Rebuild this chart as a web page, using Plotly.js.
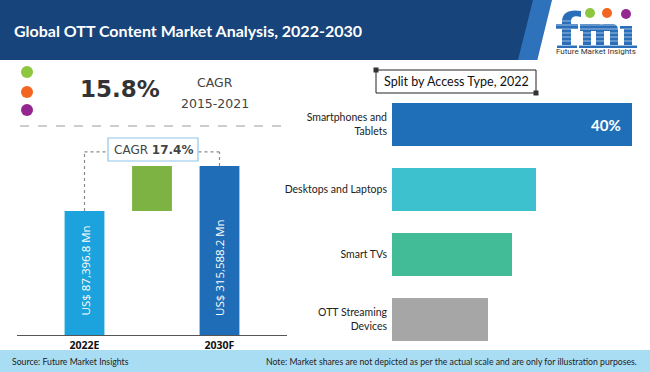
<!DOCTYPE html>
<html>
<head>
<meta charset="utf-8">
<script src="https://cdn.plot.ly/plotly-3.0.1.min.js"></script>
<style>html,body{margin:0;padding:0;background:#fff;}#chart{width:650px;height:372px;}</style>
</head>
<body>
<div id="chart"></div>
<script>
// ---- data ----
const chartTitle = "Global OTT Content Market Analysis, 2022-2030";
const marketYears = ["2022E", "2030F"];
const marketValues = [87396.8, 315588.2];          // US$ Mn
const forecastCagr = "17.4%";
const historicCagr = "15.8%";
const historicPeriod = "2015-2021";
const accessTitle = "Split by Access Type, 2022";
const accessTypes = ["Smartphones and<br>Tablets", "Desktops and Laptops", "Smart TVs", "OTT Streaming<br>Devices"];
const accessShares = [40, 24, 20, 16];              // % share (illustrative)
const sourceText = "Source: Future Market Insights";
const noteText = "Note: Market shares are not depicted as per the actual scale and are only for illustration purposes.";

// ---- helpers ----
const W = 650, H = 372;
const px = x => x / W;
const py = y => 1 - y / H;
const pt = p => px(p[0]).toFixed(5) + ',' + py(p[1]).toFixed(5);
const pathP = pts => 'M ' + pts.map(pt).join(' L ') + ' Z';

const yLogRange = [3.405, 5.945];
const connectorLevel = Math.pow(10, 5.673);

const fmt = v => v.toLocaleString('en-US', {minimumFractionDigits: 1, maximumFractionDigits: 1});

const traces = [
  {
    type: 'bar', x: [0, 2], y: marketValues, xaxis: 'x', yaxis: 'y',
    width: 0.59, marker: {color: ['#1CA2DC', '#1F6DB6']}, hoverinfo: 'skip'
  },
  {
    type: 'bar', x: [1], base: [marketValues[0]], y: [marketValues[1] - marketValues[0]],
    xaxis: 'x', yaxis: 'y', width: 0.59, marker: {color: '#7CB342'}, hoverinfo: 'skip'
  },
  {
    type: 'bar', orientation: 'h', x: accessShares, y: accessTypes, xaxis: 'x2', yaxis: 'y2',
    width: 0.66, marker: {color: ['#1F6FB8', '#3EC1CE', '#41BC96', '#A6A6A6']}, hoverinfo: 'skip'
  }
];

const logoBlue = '#2A6DB8';
const rectP = (x0, y0, x1, y1) => ({type: 'rect', xref: 'paper', yref: 'paper', x0: px(x0), x1: px(x1), y0: py(y1), y1: py(y0), fillcolor: logoBlue, line: {width: 0}});
const curveP = d => ({type: 'path', xref: 'paper', yref: 'paper', path: d, fillcolor: logoBlue, line: {width: 0}});

const shapes = [
  // header
  {type: 'rect', xref: 'paper', yref: 'paper', x0: 0, x1: 1, y0: py(60), y1: 1, fillcolor: '#17447A', line: {width: 0}, layer: 'below'},
  {type: 'path', xref: 'paper', yref: 'paper', path: pathP([[533, 0], [552, 0], [537, 60], [518, 60]]), fillcolor: '#2F72BC', line: {width: 0}, layer: 'below'},
  {type: 'path', xref: 'paper', yref: 'paper', path: pathP([[552, 0], [651, 0], [651, 61], [537, 61]]), fillcolor: '#FFFFFF', line: {width: 0}, layer: 'below'},
  // footer
  {type: 'rect', xref: 'paper', yref: 'paper', x0: 0, x1: 1, y0: 0, y1: py(350), fillcolor: '#A9DDF3', line: {width: 0}, layer: 'below'},
  // bullets
  {type: 'circle', xref: 'paper', yref: 'paper', x0: px(21), x1: px(33), y0: py(78), y1: py(66), fillcolor: '#8DC63F', line: {width: 0}},
  {type: 'circle', xref: 'paper', yref: 'paper', x0: px(21), x1: px(33), y0: py(98), y1: py(86), fillcolor: '#F26522', line: {width: 0}},
  {type: 'circle', xref: 'paper', yref: 'paper', x0: px(21), x1: px(33), y0: py(116), y1: py(104), fillcolor: '#93278F', line: {width: 0}},
  // dashed separator
  {type: 'line', xref: 'paper', yref: 'paper', x0: px(20), x1: px(288), y0: py(126), y1: py(126), line: {color: '#9A9A9A', width: 1, dash: 'dash'}},
  // connectors
  {type: 'line', xref: 'x', yref: 'y', x0: 0, x1: 0, y0: marketValues[0], y1: connectorLevel, line: {color: '#8A8A8A', width: 1.2, dash: 'dot'}},
  {type: 'line', xref: 'x', yref: 'y', x0: 2, x1: 2, y0: marketValues[1], y1: connectorLevel, line: {color: '#8A8A8A', width: 1.2, dash: 'dot'}},
  {type: 'line', xref: 'x', yref: 'y', x0: 0, x1: 2, y0: connectorLevel, y1: connectorLevel, line: {color: '#8A8A8A', width: 1.2, dash: 'dot'}},
  {type: 'rect', xref: 'paper', yref: 'paper', x0: px(108), x1: px(198), y0: py(161), y1: py(138), fillcolor: '#FFFFFF', line: {color: '#8EC5EA', width: 1.2}},
  // right title box
  {type: 'rect', xref: 'paper', yref: 'paper', x0: px(376), x1: px(536), y0: py(93), y1: py(70), fillcolor: '#FFFFFF', line: {color: '#222', width: 1}},
  {type: 'rect', xref: 'paper', yref: 'paper', x0: px(373.5), x1: px(378.5), y0: py(72.5), y1: py(67.5), fillcolor: '#333', line: {width: 0}},
  {type: 'rect', xref: 'paper', yref: 'paper', x0: px(533.5), x1: px(538.5), y0: py(95.5), y1: py(90.5), fillcolor: '#333', line: {width: 0}},
  // logo dots
  {type: 'circle', xref: 'paper', yref: 'paper', x0: px(585), x1: px(595), y0: py(18), y1: py(8), fillcolor: '#8DC63F', line: {width: 0}},
  {type: 'circle', xref: 'paper', yref: 'paper', x0: px(602), x1: px(612), y0: py(18), y1: py(8), fillcolor: '#F26522', line: {width: 0}},
  {type: 'circle', xref: 'paper', yref: 'paper', x0: px(621), x1: px(631), y0: py(19), y1: py(9), fillcolor: '#93278F', line: {width: 0}},
  // logo letters "fmi"
  curveP('M ' + pt([562, 48]) + ' L ' + pt([562, 22]) + ' C ' + pt([562, 12]) + ' ' + pt([570, 9]) + ' ' + pt([581, 11]) +
         ' L ' + pt([581, 17]) + ' C ' + pt([574, 15]) + ' ' + pt([571, 17]) + ' ' + pt([571, 22]) + ' L ' + pt([571, 48]) + ' Z'),
  rectP(556, 24, 578, 29), rectP(557, 45, 577, 48),
  curveP('M ' + pt([580, 31]) + ' L ' + pt([580, 24]) + ' L ' + pt([599, 24]) + ' Q ' + pt([604, 24]) + ' ' + pt([604, 31]) + ' Z'),
  curveP('M ' + pt([596, 31]) + ' L ' + pt([596, 28]) + ' Q ' + pt([599, 24]) + ' ' + pt([605, 24]) + ' L ' + pt([613, 24]) + ' Q ' + pt([618, 24]) + ' ' + pt([618, 31]) + ' Z'),
  rectP(583, 27, 591, 48), rectP(596, 30, 604, 48), rectP(610, 30, 618, 48),
  rectP(579, 45, 594, 48), rectP(593, 45, 607, 48), rectP(607, 45, 622, 48),
  rectP(624, 26, 632, 48), rectP(620, 26, 632, 29), rectP(620, 45, 637, 48)
];
// stripes across the logo letters
[21, 25, 29, 33, 37, 41, 45.5].forEach(y => {
  shapes.push({type: 'line', xref: 'paper', yref: 'paper', x0: px(555), x1: px(639), y0: py(y), y1: py(y), line: {color: 'rgba(255,255,255,0.55)', width: 1}});
});

const calibri = 'Lato, "Open Sans", sans-serif';
const gothic = '"DejaVu Sans", sans-serif';

const annotations = [
  {xref: 'paper', yref: 'paper', x: px(12), y: py(30), xanchor: 'left', yanchor: 'middle', showarrow: false,
   text: '<b>' + chartTitle + '</b>', font: {family: calibri, size: 16, color: '#FFFFFF'}},
  {xref: 'paper', yref: 'paper', x: px(596), y: py(52), xanchor: 'center', yanchor: 'middle', showarrow: false,
   text: 'Future Market Insights', font: {family: 'Roboto, sans-serif', size: 8, color: '#333'}},
  // historic CAGR
  {xref: 'paper', yref: 'paper', x: px(120), y: py(89), xanchor: 'center', yanchor: 'middle', showarrow: false,
   text: '<b>' + historicCagr + '</b>', font: {family: gothic, size: 23, color: '#333333'}},
  {xref: 'paper', yref: 'paper', x: px(215), y: py(82), xanchor: 'center', yanchor: 'middle', showarrow: false,
   text: 'CAGR', font: {family: gothic, size: 12.5, color: '#444'}},
  {xref: 'paper', yref: 'paper', x: px(215), y: py(104), xanchor: 'center', yanchor: 'middle', showarrow: false,
   text: historicPeriod, font: {family: gothic, size: 12.5, color: '#444'}},
  // forecast CAGR
  {xref: 'paper', yref: 'paper', x: px(153), y: py(149.5), xanchor: 'center', yanchor: 'middle', showarrow: false,
   text: 'CAGR <b>' + forecastCagr + '</b>', font: {family: gothic, size: 12, color: '#444'}},
  // right title
  {xref: 'paper', yref: 'paper', x: px(456), y: py(81.5), xanchor: 'center', yanchor: 'middle', showarrow: false,
   text: accessTitle, font: {family: calibri, size: 12.5, color: '#111'}},
  {xref: 'x2', yref: 'y2', x: accessShares[0], y: accessTypes[0], xanchor: 'right', yanchor: 'middle', xshift: -9, showarrow: false,
   text: '<b>' + accessShares[0] + '%</b>', font: {family: calibri, size: 15, color: '#FFFFFF'}},
  // footer
  {xref: 'paper', yref: 'paper', x: px(10), y: py(361), xanchor: 'left', yanchor: 'middle', showarrow: false,
   text: sourceText, font: {family: calibri, size: 8.7, color: '#222'}},
  {xref: 'paper', yref: 'paper', x: px(639), y: py(361), xanchor: 'right', yanchor: 'middle', showarrow: false,
   text: noteText, font: {family: calibri, size: 8.7, color: '#222'}}
];
marketValues.forEach((v, i) => {
  annotations.push({xref: 'x', yref: 'y', x: i * 2, y: yLogRange[0], xanchor: 'center', yanchor: 'bottom', yshift: 17,
    textangle: -90, showarrow: false, text: 'US$ ' + fmt(v) + ' Mn',
    font: {family: '"Open Sans", sans-serif', size: 11.5, color: '#FFFFFF'}});
});

const layout = {
  width: W, height: H, margin: {l: 0, r: 0, t: 0, b: 0},
  paper_bgcolor: '#FFFFFF', plot_bgcolor: 'rgba(0,0,0,0)', showlegend: false,
  xaxis: {domain: [px(17), px(287)], range: [-1, 3], tickvals: [0, 2], ticktext: marketYears,
    showline: true, linecolor: '#555', linewidth: 1, showgrid: false, zeroline: false, ticks: '',
    tickfont: {family: '"Open Sans", sans-serif', size: 10.5, color: '#111', weight: 'bold'}, fixedrange: true},
  yaxis: {domain: [py(335), py(130)], type: 'log', range: yLogRange, visible: false, fixedrange: true},
  xaxis2: {domain: [px(392), 1], range: [0, 43], visible: false, anchor: 'y2', fixedrange: true},
  yaxis2: {domain: [py(352), py(92)], anchor: 'x2', type: 'category', categoryorder: 'array', categoryarray: accessTypes,
    autorange: 'reversed', showgrid: false, showline: false, zeroline: false, ticks: '', ticklabelstandoff: 4,
    tickfont: {family: calibri, size: 10.5, color: '#222'}, fixedrange: true},
  shapes: shapes, annotations: annotations
};

Plotly.newPlot('chart', traces, layout, {staticPlot: true, displayModeBar: false});
</script>
</body>
</html>
